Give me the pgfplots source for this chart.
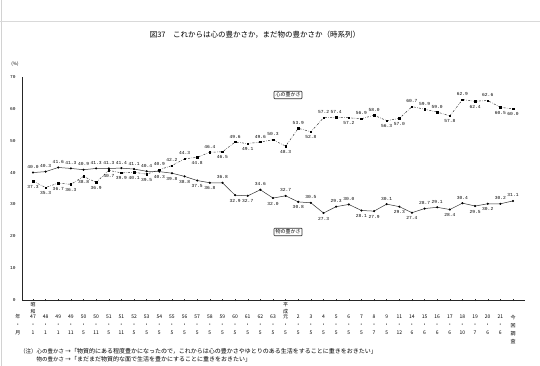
\documentclass[border=0pt]{standalone}
\usepackage{fontspec}
\setmainfont{Noto Sans CJK JP}
\newfontfamily\monofont{Liberation Mono}
\usepackage{pgfplots}
\usepackage{pgfplotstable}
\pgfplotsset{compat=1.18}

\pgfplotstableread{
i shin mono sp mp
0 37.3 40.0 -1 1
1 35.3 40.3 -1 1
2 36.7 41.6 -1 1
3 36.3 41.3 -1 1
4 38.8 40.9 -1 1
5 36.9 41.3 -1 1
6 40.7 41.3 -1 1
7 39.9 41.4 -1 1
8 40.1 41.1 -1 1
9 39.5 40.4 -1 1
10 40.9 40.3 1 -1
11 42.2 39.8 1 -1
12 44.3 38.8 1 -1
13 44.8 37.5 -1 -1
14 46.4 36.8 1 -1
15 46.5 36.8 -1 1
16 49.6 32.9 1 -1
17 49.1 32.7 -1 -1
18 49.6 34.6 1 1
19 50.3 32.0 1 -1
20 48.3 32.7 -1 1
21 53.9 30.8 1 -1
22 52.8 30.5 -1 1
23 57.2 27.3 1 -1
24 57.4 29.3 1 1
25 57.2 30.0 -1 1
26 56.9 28.1 1 -1
27 58.0 27.9 1 -1
28 56.3 30.1 -1 1
29 57.0 29.3 -1 -1
30 60.7 27.4 1 -1
31 59.9 28.7 1 1
32 59.0 29.1 1 1
33 57.8 28.4 -1 -1
34 62.9 30.4 1 1
35 62.4 29.5 -1 -1
36 62.6 30.2 1 -1
37 60.5 30.2 -1 1
38 60.0 31.1 -1 1
}\datatab

\begin{document}
\begin{tikzpicture}
\useasboundingbox (0,0) rectangle (540pt,366pt);
\fill[white] (0,0) rectangle (540pt,366pt);
\draw[gray!35, line width=1pt] (1pt,0) -- (1pt,366pt);
\draw[gray!30, line width=0.5pt] (0,345pt) -- (540pt,345pt);
\begin{axis}[
  at={(22pt,66pt)}, anchor=south west,
  scale only axis, width=503pt, height=223pt,
  xmin=-0.871, xmax=38.95, ymin=0, ymax=70,
  axis lines=left, axis line style={line width=0.7pt, -, black!85},
  clip=false,
  xtick={0,...,38},
  xticklabels={{47\\・\\1},{48\\・\\1},{49\\・\\1},{49\\・\\11},{50\\・\\5},{50\\・\\11},{51\\・\\5},{51\\・\\11},{52\\・\\5},{53\\・\\5},{54\\・\\5},{55\\・\\5},{56\\・\\5},{57\\・\\5},{58\\・\\5},{59\\・\\5},{60\\・\\5},{61\\・\\5},{62\\・\\5},{63\\・\\5},{元\\・\\5},{2\\・\\5},{3\\・\\5},{4\\・\\5},{5\\・\\5},{6\\・\\5},{7\\・\\5},{8\\・\\7},{9\\・\\5},{11\\・\\12},{14\\・\\6},{15\\・\\6},{16\\・\\6},{17\\・\\6},{18\\・\\10},{19\\・\\7},{20\\・\\6},{21\\・\\6},{今\\回\\調\\査}},
  xticklabel style={font=\fontsize{5}{8}\selectfont, align=center, anchor=north, inner sep=0pt, yshift=-13.5pt},
  ytick={0,10,...,70},
  yticklabel style={font=\monofont\fontsize{4.5}{5}\selectfont, anchor=east, inner sep=0pt, xshift=-5pt},
  /pgf/number format/assume math mode=true,
  tick align=center, major tick length=2.5pt,
  ytick style={draw=none},
  xtick style={line width=0.4pt, black!85},
]
\addplot[black!80, line width=0.5pt, dash pattern=on 2pt off 1.4pt on 0.5pt off 1.4pt,
  mark=square*, mark size=0.75pt, mark options={solid, black},
  nodes near coords, point meta=explicit symbolic,
  visualization depends on={\thisrow{sp} \as \lp},
  every node near coord/.append style={font=\monofont\fontsize{4.6}{5}\selectfont, anchor=center, yshift=\lp*5.5pt, inner sep=0pt, text=black}]
  table[x=i, y=shin, meta=shin] {\datatab};
\addplot[black!80, line width=0.5pt,
  mark=*, mark size=0.8pt, mark options={black},
  nodes near coords, point meta=explicit symbolic,
  visualization depends on={\thisrow{mp} \as \lq},
  every node near coord/.append style={font=\monofont\fontsize{4.6}{5}\selectfont, anchor=center, yshift=\lq*5.5pt, inner sep=0pt, text=black}]
  table[x=i, y=mono, meta=mono] {\datatab};
\node[font=\fontsize{5}{7}\selectfont, align=center, anchor=north, inner sep=0pt] at (axis cs:0,0) [yshift=-2pt] {昭\\和};
\node[font=\fontsize{5}{7}\selectfont, align=center, anchor=north, inner sep=0pt] at (axis cs:20,0) [yshift=-2pt] {平\\成};
\node[font=\fontsize{5}{8}\selectfont, align=center, anchor=north, inner sep=0pt] at (axis cs:-0.871,0) [xshift=-4pt, yshift=-14.3pt] {年\\・\\月};
\end{axis}
\node[font=\fontsize{7.5}{8}\selectfont] at (255pt,331pt) {図37　これからは心の豊かさか，まだ物の豊かさか（時系列）};
\node[font=\fontsize{4.5}{5}\selectfont, inner sep=0pt] at (15pt,302pt) {(\%)};
\node[draw=black!80, line width=0.7pt, rounded corners=0.8pt, inner sep=1.5pt, font=\fontsize{5}{5}\selectfont, fill=white] at (288pt,271pt) {心の豊かさ};
\node[draw=black!80, line width=0.7pt, rounded corners=0.8pt, inner sep=1.5pt, font=\fontsize{5}{5}\selectfont, fill=white] at (288pt,134pt) {物の豊かさ};
\node[font=\fontsize{5.5}{6}\selectfont, anchor=base east, inner sep=0pt] at (71pt,12.5pt) {（注）心の豊かさ →};
\node[font=\fontsize{6}{6}\selectfont, anchor=base west, inner sep=0pt] at (71pt,12.5pt) {「物質的にある程度豊かになったので，これからは心の豊かさやゆとりのある生活をすることに重きをおきたい」};
\node[font=\fontsize{5.5}{6}\selectfont, anchor=base east, inner sep=0pt] at (71pt,4.5pt) {物の豊かさ →};
\node[font=\fontsize{6}{6}\selectfont, anchor=base west, inner sep=0pt] at (71pt,4.5pt) {「まだまだ物質的な面で生活を豊かにすることに重きをおきたい」};
\end{tikzpicture}
\end{document}
